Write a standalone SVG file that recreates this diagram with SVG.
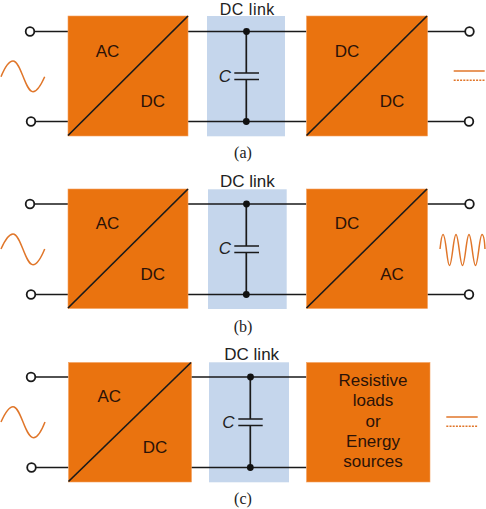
<svg xmlns="http://www.w3.org/2000/svg" width="486" height="509" viewBox="0 0 486 509">
<style>
.conv{fill:#ea730f;stroke:#f3a060;stroke-width:.6}
.link{fill:#c5d6ec}
.w{stroke:#1a1a1a;stroke-width:1.7;fill:none}
.term{fill:#fff;stroke:#1a1a1a;stroke-width:1.8}
.dot{fill:#111}
.sig{stroke:#e0762a;stroke-width:1.5;fill:none}
.dash{stroke-dasharray:2 1.2}
text{font-family:"Liberation Sans",Arial,sans-serif;font-size:17px;fill:#2a1208;text-anchor:middle}
.lbl{fill:#222}
.cap{font-family:"Liberation Serif","Times New Roman",serif;font-size:16px;fill:#222}
.c{font-style:italic;fill:#222}
</style>
<rect width="486" height="509" fill="#fff"/>
<g id="link-a"><rect class="link" x="207" y="16" width="78" height="120.300"/><text class="lbl" x="247.300" y="14.600" style="font-size:16px;letter-spacing:.5px">DC link</text></g>
<g id="link-b"><rect class="link" x="208" y="189.300" width="78.700" height="119.700"/><text class="lbl" x="247.300" y="186.700">DC link</text></g>
<g id="link-c"><rect class="link" x="209" y="362.300" width="80" height="120"/><text class="lbl" x="251.700" y="360">DC link</text></g>
<g id="connectors">
<path class="w" d="M30 31.500H68M188 31.500H306.500M427 31.500H470M31 121.500H68M188 121.500H306.500M427 121.500H469M246.300 31.500V73M246.300 79.500V121.500M234.300 73H259M234.300 79.500H259"/>
<path class="w" d="M30 204H68M188 204H306.500M427 204H470M31 294.500H68M188 294.500H306.500M427 294.500H469M246.300 204V246M246.300 252.500V294.500M234.300 246H259M234.300 252.500H259"/>
<path class="w" d="M31 377H68.500M191 377H306.500M31.500 467.500H68.500M191 467.500H306.500M250.300 377V419M250.300 425.500V467.500M238.300 419H262.700M238.300 425.500H262.700"/>
</g>
<g id="conv-a1"><rect class="conv" x="68" y="16" width="120" height="120"/><path class="w" d="M68 135.500L188 16"/><text x="107.500" y="56.700">AC</text><text x="152.700" y="107.300">DC</text></g>
<g id="conv-a2"><rect class="conv" x="306.500" y="16" width="121" height="120"/><path class="w" d="M306.500 135.500L427 16"/><text x="347" y="56.700">DC</text><text x="392" y="107.300">DC</text></g>
<g id="conv-b1"><rect class="conv" x="68" y="189" width="120" height="119.500"/><path class="w" d="M68 308L188 189"/><text x="107.500" y="229.300">AC</text><text x="152.700" y="280">DC</text></g>
<g id="conv-b2"><rect class="conv" x="306.500" y="189" width="121" height="119.500"/><path class="w" d="M306.500 308L427 189"/><text x="347" y="229.300">DC</text><text x="392" y="280">AC</text></g>
<g id="conv-c1"><rect class="conv" x="68.500" y="362.500" width="123" height="119.500"/><path class="w" d="M68.500 481.500L191 362.500"/><text x="109.300" y="402.300">AC</text><text x="155" y="453.300">DC</text></g>
<g id="load-c"><rect class="conv" x="306.500" y="362.500" width="123.500" height="119.500"/>
<text x="373" y="386">Resistive</text><text x="373" y="406">loads</text><text x="373" y="426.700">or</text><text x="373" y="447">Energy</text><text x="373" y="467">sources</text></g>
<g id="terminals">
<circle class="term" cx="30" cy="31.500" r="4.300"/><circle class="term" cx="31" cy="121.500" r="4.300"/><circle class="term" cx="469.500" cy="31.500" r="4.300"/><circle class="term" cx="469" cy="121.500" r="4.300"/>
<circle class="term" cx="30" cy="204" r="4.300"/><circle class="term" cx="31" cy="294.500" r="4.300"/><circle class="term" cx="469.500" cy="204" r="4.300"/><circle class="term" cx="469" cy="294.500" r="4.300"/>
<circle class="term" cx="31" cy="377" r="4.300"/><circle class="term" cx="31.500" cy="467.500" r="4.300"/>
<circle class="dot" cx="246.500" cy="31.500" r="3.400"/><circle class="dot" cx="246.300" cy="121.500" r="3.400"/>
<circle class="dot" cx="246.500" cy="204" r="3.400"/><circle class="dot" cx="246.300" cy="294.500" r="3.400"/>
<circle class="dot" cx="250.500" cy="377" r="3.400"/><circle class="dot" cx="250.300" cy="467.500" r="3.400"/>
</g>
<g id="signals">
<path class="sig" d="M1 76.700C5 67 9 61 13 61C21 61 25 91.700 33 91.700C37 91.700 41 85 44.700 76.700"/>
<path class="sig" d="M1 249C5 240 9 234 13 234C21 234 25 264.700 33 264.700C37 264.700 41 258 44.700 249"/>
<path class="sig" d="M1 422C5 413 9 406.700 13 406.700C21 406.700 25 437.700 33.500 437.700C37.500 437.700 41.500 431 45 422"/>
<path class="sig" d="M440 249C441 240 442 234.500 443 234.500C446 234.500 447 265.500 449.500 265.500C452 265.500 453.500 234.500 456 234.500C458.500 234.500 460 265.500 462.500 265.500C465 265.500 466.500 234.500 469 234.500C471.500 234.500 473 265.500 475.500 265.500C478 265.500 479.500 234.500 482 234.500C483.500 234.500 484.500 240 485 249"/>
<path class="sig" d="M453.700 71H484.700"/><path class="sig dash" d="M453.700 80.300H484.700"/>
<path class="sig" d="M446.300 417H477.700"/><path class="sig dash" d="M446.300 426.300H477.700"/>
</g>
<g id="labels">
<text class="c" x="225" y="82.300">C</text><text class="c" x="225" y="254.300">C</text><text class="c" x="228.500" y="427.700">C</text>
<text class="cap" x="243" y="158">(a)</text><text class="cap" x="243" y="332">(b)</text><text class="cap" x="243" y="504">(c)</text>
</g>
</svg>
